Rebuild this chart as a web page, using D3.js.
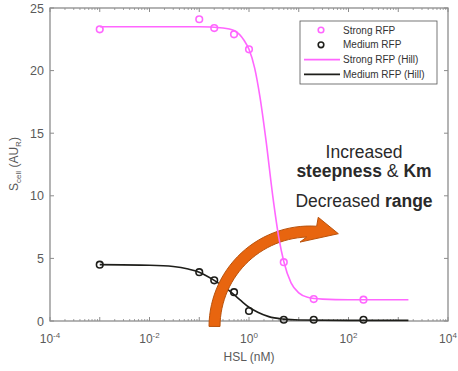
<!DOCTYPE html>
<html>
<head>
<meta charset="utf-8">
<script src="https://cdn.jsdelivr.net/npm/d3@7"></script>
<style>
body { margin: 0; background: #fff; }
svg { display: block; font-family: Arial, "Liberation Sans", sans-serif; }
</style>
</head>
<body>
<svg width="458" height="371"></svg>
<script>
// measured concentrations (nM) and outputs
const hsl = [0.001, 0.1, 0.2, 0.5, 1, 5, 20, 200]
const strongRFP = [23.3, 24.1, 23.4, 22.9, 21.7, 4.7, 1.75, 1.7]
const mediumRFP = [4.5, 3.9, 3.25, 2.3, 0.8, 0.1, 0.1, 0.1]

// Hill fit curves
const strongHillX = [0.001, 0.01, 0.1, 0.3, 0.5, 0.8, 1, 1.3, 1.66, 2.2, 3, 4, 5, 7, 10, 15, 30, 100, 1600]
const strongHillY = [23.5, 23.5, 23.5, 23.4, 23.2, 22.4, 21.7, 20.2, 17.9, 14.4, 10.0, 6.6, 4.75, 3.05, 2.25, 1.9, 1.75, 1.7, 1.7]
const mediumHillX = [0.001, 0.01, 0.03, 0.06, 0.1, 0.2, 0.35, 0.5, 0.7, 1, 1.5, 2.5, 5, 10, 100, 1600]
const mediumHillY = [4.5, 4.45, 4.35, 4.15, 3.9, 3.25, 2.6, 2.1, 1.6, 1.1, 0.7, 0.35, 0.15, 0.08, 0.05, 0.05]

const yTicks = [0, 5, 10, 15, 20, 25]
const xExponents = [-4, -3, -2, -1, 0, 1, 2, 3, 4]
const xLabelExponents = [-4, -2, 0, 2, 4]

const legendItems = [
	{ label: 'Strong RFP', kind: 'marker', color: '#ff66ff' },
	{ label: 'Medium RFP', kind: 'marker', color: '#1e1e1a' },
	{ label: 'Strong RFP (Hill)', kind: 'line', color: '#ff66ff' },
	{ label: 'Medium RFP (Hill)', kind: 'line', color: '#1e1e1a' },
]

const svg = d3.select('svg')
const plotLeft = 50, plotRight = 448, plotTop = 8, plotBottom = 321
const axisGrey = '#8c8c8c'
const labelGrey = '#5a5a5a'
const pink = '#ff66ff'
const dark = '#1e1e1a'

const x = d3.scaleLog().domain([1e-4, 1e4]).range([plotLeft, plotRight])
const y = d3.scaleLinear().domain([0, 25]).range([plotBottom, plotTop])

/*

AXES

*/
const axes = svg.append('g')

// minor log ticks
const minor = []
xExponents.slice(0, -1).forEach(e => {
	for (let m = 2; m <= 9; m++) minor.push(m * Math.pow(10, e))
})
axes.selectAll('.minor-b')
	.data(minor)
	.enter()
	.append('line')
	.attr('x1', d => x(d)).attr('x2', d => x(d))
	.attr('y1', plotBottom).attr('y2', plotBottom - 2)
	.attr('stroke', axisGrey).attr('stroke-width', 0.8)
axes.selectAll('.minor-t')
	.data(minor)
	.enter()
	.append('line')
	.attr('x1', d => x(d)).attr('x2', d => x(d))
	.attr('y1', plotTop).attr('y2', plotTop + 2)
	.attr('stroke', axisGrey).attr('stroke-width', 0.8)

// major log ticks
xExponents.forEach(e => {
	const px = x(Math.pow(10, e))
	axes.append('line').attr('x1', px).attr('x2', px).attr('y1', plotBottom).attr('y2', plotBottom - 4)
		.attr('stroke', axisGrey).attr('stroke-width', 1)
	axes.append('line').attr('x1', px).attr('x2', px).attr('y1', plotTop).attr('y2', plotTop + 4)
		.attr('stroke', axisGrey).attr('stroke-width', 1)
})

const xLabels = axes.selectAll('.xlab')
	.data(xLabelExponents)
	.enter()
	.append('text')
	.attr('x', d => x(Math.pow(10, d)))
	.attr('y', 343)
	.attr('text-anchor', 'middle')
	.attr('fill', labelGrey)
	.style('font-size', '12px')
xLabels.append('tspan').text('10')
xLabels.append('tspan')
	.attr('dy', -5)
	.style('font-size', '8px')
	.text(d => d)

yTicks.forEach(t => {
	const py = y(t)
	axes.append('line').attr('x1', plotLeft).attr('x2', plotLeft + 4).attr('y1', py).attr('y2', py)
		.attr('stroke', axisGrey)
	axes.append('line').attr('x1', plotRight).attr('x2', plotRight - 4).attr('y1', py).attr('y2', py)
		.attr('stroke', axisGrey)
	axes.append('text')
		.attr('x', plotLeft - 6).attr('y', py + 4.5)
		.attr('text-anchor', 'end')
		.attr('fill', labelGrey)
		.style('font-size', '12.5px')
		.text(t)
})

axes.append('rect')
	.attr('x', plotLeft).attr('y', plotTop)
	.attr('width', plotRight - plotLeft).attr('height', plotBottom - plotTop)
	.attr('fill', 'none')
	.attr('stroke', axisGrey)
	.attr('stroke-width', 1.3)

axes.append('text')
	.attr('x', (plotLeft + plotRight) / 2).attr('y', 361)
	.attr('text-anchor', 'middle')
	.attr('fill', labelGrey)
	.style('font-size', '12px')
	.text('HSL (nM)')

const yLabel = axes.append('text')
	.attr('transform', 'translate(18,164) rotate(-90)')
	.attr('text-anchor', 'middle')
	.attr('fill', labelGrey)
	.style('font-size', '12px')
yLabel.append('tspan').text('S')
yLabel.append('tspan').attr('dy', 3).style('font-size', '8px').text('cell')
yLabel.append('tspan').attr('dy', -3).text(' (AU')
yLabel.append('tspan').attr('dy', 3).style('font-size', '8px').text('R')
yLabel.append('tspan').attr('dy', -3).text(')')

/*

SERIES

*/
const line = d3.line()
	.x(d => x(d[0]))
	.y(d => y(d[1]))
	.curve(d3.curveMonotoneX)

const drawFit = (xs, ys, color) => {
	svg.append('path')
		.datum(xs.map((v, i) => [v, ys[i]]))
		.attr('d', line)
		.attr('fill', 'none')
		.attr('stroke', color)
		.attr('stroke-width', 1.6)
}

const drawPoints = (values, color) => {
	svg.append('g')
		.selectAll('circle')
		.data(values.map((v, i) => [hsl[i], v]))
		.enter()
		.append('circle')
		.attr('cx', d => x(d[0]))
		.attr('cy', d => y(d[1]))
		.attr('r', 3.3)
		.attr('fill', 'none')
		.attr('stroke', color)
		.attr('stroke-width', 1.6)
}

drawFit(mediumHillX, mediumHillY, dark)
drawPoints(mediumRFP, dark)

/*

ARROW ANNOTATION

*/
const cx = 310, cy = 327
const polar = (r, a) => [cx + r * Math.sin(a), cy - r * Math.cos(a)]
const rIn = 90, rOut = 101
const a0 = -1.565
const arrowPts = []
for (let i = 0; i <= 30; i++) arrowPts.push(polar(rOut, a0 + (0.066 - a0) * i / 30))
arrowPts.push(polar(110, 0.075))
arrowPts.push(polar(97.5, 0.295))
arrowPts.push(polar(85.5, -0.117))
arrowPts.push(polar(rIn, -0.037))
for (let i = 30; i >= 0; i--) arrowPts.push(polar(rIn, a0 + (-0.037 - a0) * i / 30))

svg.append('path')
	.attr('d', d3.line()(arrowPts) + 'Z')
	.attr('fill', '#e8650f')
	.attr('stroke', '#b9520c')
	.attr('stroke-width', 1)
	.attr('stroke-linejoin', 'miter')

drawFit(strongHillX, strongHillY, pink)
drawPoints(strongRFP, pink)

/*

ANNOTATION TEXT

*/
const note = svg.append('g')
	.attr('fill', '#2a2a2a')
	.style('font-size', '17.5px')
	.attr('text-anchor', 'middle')
note.append('text').attr('x', 364).attr('y', 158).text('Increased')
const l2 = note.append('text').attr('x', 364).attr('y', 177)
l2.append('tspan').style('font-weight', 'bold').text('steepness')
l2.append('tspan').text(' & ')
l2.append('tspan').style('font-weight', 'bold').text('Km')
const l3 = note.append('text').attr('x', 364).attr('y', 207)
l3.append('tspan').text('Decreased ')
l3.append('tspan').style('font-weight', 'bold').text('range')

/*

LEGEND

*/
const legend = svg.append('g')
legend.append('rect')
	.attr('x', 300).attr('y', 21)
	.attr('width', 137).attr('height', 63)
	.attr('fill', '#fff')
	.attr('stroke', '#555')
	.attr('stroke-width', 0.8)

const rows = legend.selectAll('.row')
	.data(legendItems)
	.enter()
	.append('g')
	.attr('transform', (d, i) => `translate(0,${30 + i * 14.8})`)

rows.filter(d => d.kind === 'marker')
	.append('circle')
	.attr('cx', 321).attr('cy', 0).attr('r', 2.8)
	.attr('fill', 'none')
	.attr('stroke', d => d.color)
	.attr('stroke-width', 1.6)

rows.filter(d => d.kind === 'line')
	.append('line')
	.attr('x1', 304).attr('x2', 340)
	.attr('y1', 0).attr('y2', 0)
	.attr('stroke', d => d.color)
	.attr('stroke-width', 1.6)

rows.append('text')
	.attr('x', 343).attr('y', 3.6)
	.attr('fill', '#333')
	.style('font-size', '10px')
	.text(d => d.label)
</script>
</body>
</html>
